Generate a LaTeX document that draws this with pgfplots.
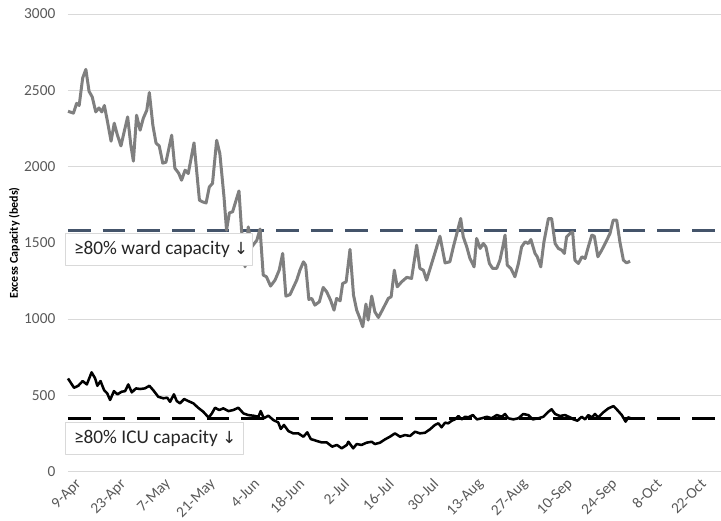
\documentclass[border=0pt]{standalone}
\usepackage{fontspec}
\setmainfont{Carlito}
\newfontfamily\symfont{DejaVu Sans}
\usepackage{pgfplots}
\pgfplotsset{compat=1.18}
\definecolor{wardgray}{HTML}{7F7F7F}
\definecolor{slate}{HTML}{44546A}
\definecolor{gridgray}{HTML}{D9D9D9}
\definecolor{ticktext}{HTML}{595959}

\begin{document}
\begin{tikzpicture}
\useasboundingbox (-51pt,-37.125pt) rectangle (489.75pt,353.625pt);
\begin{axis}[
  at={(0,0)}, anchor=south west,
  scale only axis, width=489.75pt, height=343.125pt,
  xmin=0, xmax=204.7, ymin=0, ymax=3000,
  axis line style={draw=none},
  major tick length=0pt,
  ytick={0,500,...,3000},
  yticklabels={0,500,1000,1500,2000,2500,3000},
  xtick={0,14,...,196},
  xticklabels={9-Apr,23-Apr,7-May,21-May,4-Jun,18-Jun,2-Jul,16-Jul,30-Jul,13-Aug,27-Aug,10-Sep,24-Sep,8-Oct,22-Oct},
  ymajorgrids, grid style={gridgray, line width=0.75pt},
  tick label style={font=\fontsize{11.5}{13}\selectfont, text=ticktext},
  yticklabel style={xshift=-6pt},
  xticklabel style={xshift=5pt, yshift=-3pt, rotate=45, anchor=north east, inner sep=1pt},
  ylabel={Excess Capacity (beds)},
  ylabel style={at={(axis description cs:-0.082,0.5)}, anchor=center, font=\bfseries\fontsize{9}{11}\selectfont},
  clip=false,
  line join=round,
]
% 80% capacity thresholds
\addplot[slate, line width=2.25pt, dash pattern=on 17pt off 9pt] coordinates {(0,1580) (204.7,1580)};
\addplot[black, line width=2.25pt, dash pattern=on 17pt off 9pt] coordinates {(0,345) (204.7,345)};

% ward
\addplot[wardgray, line width=2.25pt] coordinates {
(0,2362) (1.7,2350) (2.7,2414) (3.5,2400) (4.6,2580) (5.6,2637) (6.6,2493) (7.6,2456) (8.7,2358) (9.7,2384)
(10.6,2358) (11.4,2400) (12.4,2292) (13.5,2166) (14.5,2284) (15.5,2205) (16.6,2135) (17.6,2227) (18.7,2325) (19.7,2140)
(20.5,2035) (21.5,2336) (22.6,2238) (23.6,2316) (24.7,2369) (25.5,2485) (26.6,2271) (27.6,2153) (28.6,2135) (29.7,2022)
(30.7,2028) (32.5,2205) (33.5,1989) (34.7,1956) (35.6,1910) (36.7,1976) (37.7,1954) (39.5,2155) (41.2,1779) (42.2,1768)
(43.3,1761) (44.3,1866) (45.3,1889) (46.6,2172) (47.6,2085) (48.9,1801) (49.7,1583) (50.6,1696) (51.6,1703) (52.7,1779)
(53.6,1840) (54.4,1583) (55.5,1342) (56.5,1604) (57.6,1473) (59.2,1517) (60.2,1590) (61.2,1288) (62.2,1277) (63.5,1216)
(64.9,1255) (66.2,1320) (67.3,1430) (68.3,1150) (69.6,1160) (71.7,1255) (72.7,1320) (73.8,1375) (74.5,1353) (75.5,1128)
(76.4,1135) (77.4,1091) (78.8,1113) (80.0,1207) (81.1,1178) (82.3,1124) (83.4,1058) (84.2,1135) (85.3,1119) (86.1,1233)
(87.2,1244) (88.4,1456) (89.5,1157) (90.5,1058) (91.5,1004) (92.4,949) (93.4,1098) (94.1,993) (95.2,1150) (96.2,1047)
(97.3,1010) (98.8,1069) (100.4,1135) (101.3,1146) (102.3,1320) (103.2,1211) (104.6,1244) (106.2,1273) (107.7,1266) (109.3,1484)
(110.3,1332) (111.4,1320) (112.4,1255) (114.0,1364) (115.6,1473) (116.6,1543) (118.2,1368) (119.7,1375) (120.8,1473) (121.9,1561)
(123.1,1659) (123.9,1539) (125.0,1473) (126.0,1397) (127.3,1342) (128.1,1528) (129.2,1463) (130.2,1495) (131.0,1473) (132.1,1364)
(133.1,1332) (134.4,1332) (135.4,1386) (136.3,1473) (137.0,1550) (137.7,1353) (138.8,1332) (140.1,1277) (141.2,1364) (142.2,1473)
(143.3,1506) (144.3,1495) (145.1,1521) (146.4,1430) (147.1,1408) (148.2,1342) (149.2,1506) (150.6,1659) (151.6,1659) (152.7,1495)
(153.7,1463) (154.8,1451) (155.6,1430) (156.3,1539) (157.4,1561) (158.2,1571) (158.9,1386) (160.0,1364) (161.1,1408) (162.1,1397)
(163.1,1473) (164.2,1550) (165.0,1543) (166.1,1408) (167.3,1451) (168.9,1517) (169.9,1561) (170.9,1648) (172.0,1648) (173.0,1506)
(174.1,1386) (175.1,1368) (176.2,1379)
};

% ICU
\addplot[black, line width=1.9pt] coordinates {
(0,610) (1.9,549) (3.2,562) (4.6,593) (5.9,571) (7.4,650) (8.5,611) (9.2,562) (10.2,593) (11.3,534)
(12.3,512) (13.2,469) (14.4,527) (15.5,506) (16.8,523) (17.9,527) (18.9,571) (20.0,519) (21.3,545) (22.6,541)
(24.1,545) (25.5,562) (26.7,534) (28.3,490) (29.9,480) (31.1,484) (32.0,457) (33.2,506) (34.1,462) (35.1,447)
(36.4,475) (37.7,462) (39.3,447) (40.8,418) (42.4,392) (44.1,353) (45.1,381) (46.1,418) (47.4,403) (48.7,414)
(50.3,396) (51.8,403) (53.4,418) (55.0,381) (56.5,370) (58.1,366) (59.7,359) (60.4,396) (61.4,349) (62.8,366)
(64.4,337) (65.9,322) (66.7,279) (67.7,305) (69.1,265) (70.6,250) (72.2,250) (73.8,228) (75.0,257) (76.1,213)
(78.0,200) (79.5,191) (81.1,191) (82.8,163) (84.3,174) (85.8,152) (87.4,174) (87.9,195) (89.4,152) (90.5,180)
(92.0,174) (93.6,189) (95.2,195) (96.2,180) (97.8,189) (99.4,211) (100.9,228) (102.5,250) (104.1,228) (105.6,239)
(107.2,233) (108.8,261) (110.3,250) (111.9,254) (113.5,277) (115.0,305) (116.1,316) (117.1,290) (118.2,320) (119.2,316)
(120.3,333) (121.3,342) (122.4,364) (123.4,342) (124.5,359) (125.5,355) (126.9,370) (128.2,342) (129.7,349) (131.3,359)
(132.8,349) (134.4,370) (136.0,359) (137.0,377) (138.0,349) (139.6,342) (141.2,349) (142.7,377) (144.3,370) (145.7,342)
(147.5,349) (149.0,359) (150.6,392) (151.6,408) (152.7,377) (154.2,364) (155.8,370) (157.4,355) (158.4,342) (159.7,333)
(161.0,359) (162.1,342) (163.1,370) (164.2,355) (165.2,377) (166.2,355) (167.8,388) (169.4,414) (171.0,429) (172.2,403)
(173.6,370) (174.8,327) (175.6,355) (176.4,349)
};

% annotation boxes
\node[draw=gridgray, fill=white, line width=0.5pt, anchor=north west, inner xsep=6.5pt, inner ysep=0pt,
      minimum height=24pt, font=\fontsize{14.5}{16}\selectfont, text=black!85]
  at (axis cs:-0.94,1564) {\makebox[127pt][l]{≥80\% ward capacity {\symfont\fontsize{12.5}{14}\selectfont ↓}}};
\node[draw=gridgray, fill=white, line width=0.5pt, anchor=north west, inner xsep=6.5pt, inner ysep=0pt,
      minimum height=24pt, font=\fontsize{14.5}{16}\selectfont, text=black!85]
  at (axis cs:-0.94,325) {\makebox[120.5pt][l]{≥80\% ICU capacity {\symfont\fontsize{12.5}{14}\selectfont ↓}}};
\end{axis}
\end{tikzpicture}
\end{document}
